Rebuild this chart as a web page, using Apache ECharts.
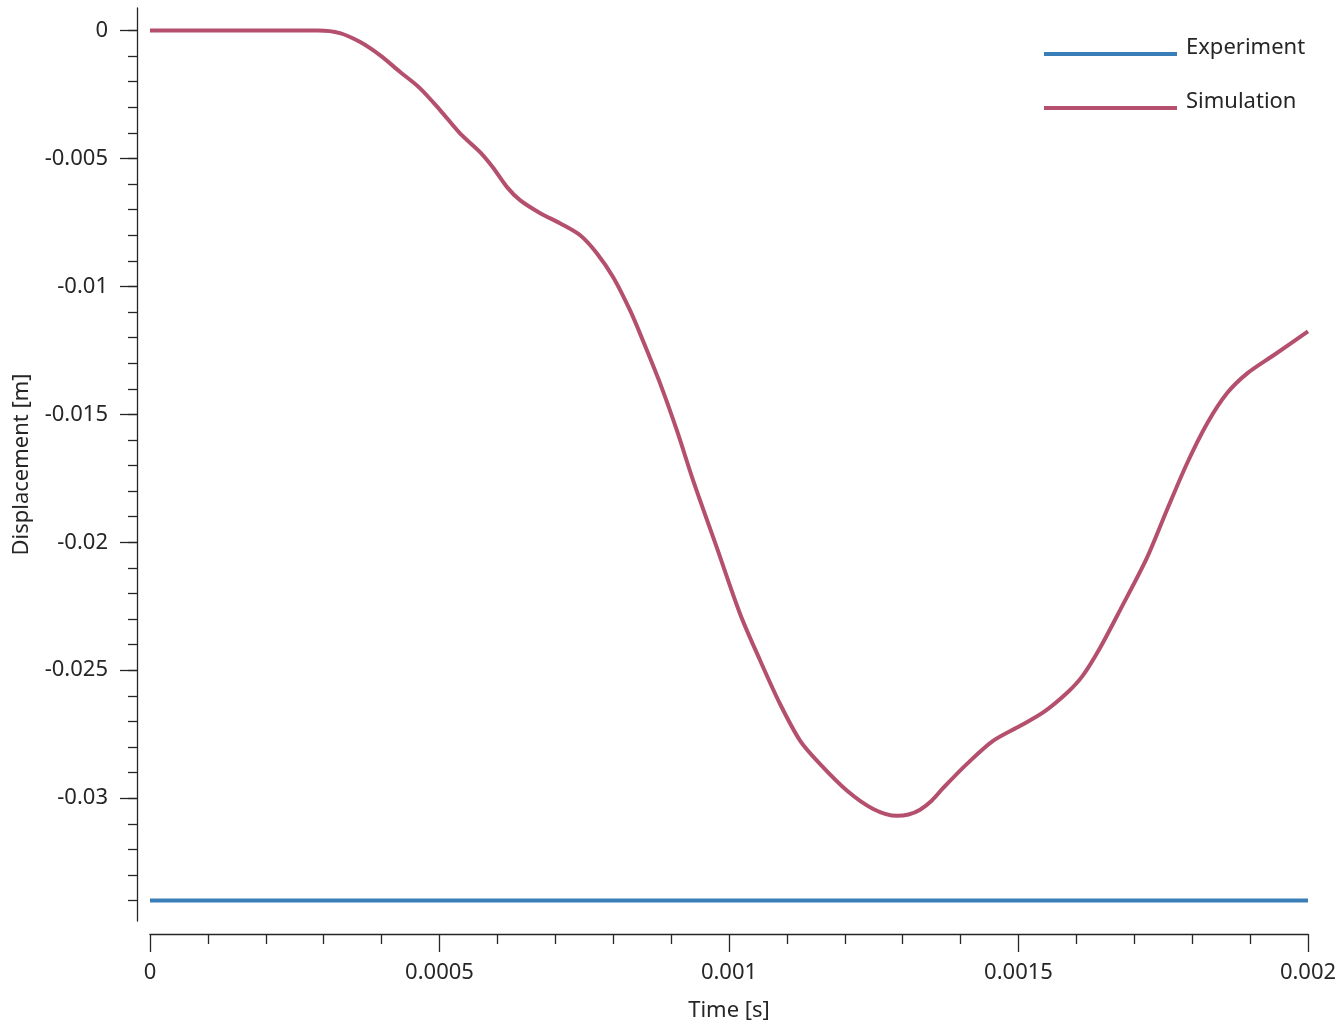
<!DOCTYPE html>
<html>
<head>
<meta charset="utf-8">
<script src="https://cdn.jsdelivr.net/npm/echarts@6/dist/echarts.min.js"></script>
<style>html,body{margin:0;padding:0;background:#fff}#c{width:1339px;height:1024px}</style>
</head>
<body>
<div id="c"></div>
<script>
// Data
const simTime = [0,0.00015,0.00029,0.000328,0.000363,0.000397,0.000432,0.000466,0.000501,0.000535,0.00057,0.000592,0.000617,0.000639,0.000674,0.000708,0.000743,0.000772,0.0008,0.000829,0.000851,0.000881,0.00091,0.000938,0.000979,0.001019,0.001054,0.001088,0.001123,0.001157,0.001204,0.001249,0.00129,0.00131,0.00133,0.00135,0.00137,0.001411,0.001456,0.001503,0.001542,0.001584,0.001611,0.001641,0.001675,0.001722,0.001756,0.001791,0.001826,0.00186,0.001895,0.00194,0.002];
const simDisp = [0,0,0,-0.0001,-0.00045,-0.00096,-0.00162,-0.00225,-0.00311,-0.00401,-0.00475,-0.00534,-0.00613,-0.00663,-0.00714,-0.00753,-0.0080,-0.00871,-0.00964,-0.01093,-0.0121,-0.01379,-0.01563,-0.01758,-0.02021,-0.02279,-0.02463,-0.02631,-0.02776,-0.02866,-0.02971,-0.03042,-0.03069,-0.03064,-0.03045,-0.0301,-0.0296,-0.02866,-0.02776,-0.02717,-0.02666,-0.02588,-0.02521,-0.02412,-0.02267,-0.0206,-0.01876,-0.01692,-0.01535,-0.01418,-0.0134,-0.0127,-0.01176];
const expTime = [0,0.002];
const expDisp = [-0.034,-0.034];
const yMajorTicks = [0,-0.005,-0.01,-0.015,-0.02,-0.025,-0.03];
const yMinorTicks = [0,-0.001,-0.002,-0.003,-0.004,-0.005,-0.006,-0.007,-0.008,-0.009,-0.01,-0.011,-0.012,-0.013,-0.014,-0.015,-0.016,-0.017,-0.018,-0.019,-0.02,-0.021,-0.022,-0.023,-0.024,-0.025,-0.026,-0.027,-0.028,-0.029,-0.03,-0.031,-0.032,-0.033,-0.034];

const FONT = '"Noto Sans", "Open Sans", sans-serif';
const TXT = '#262626';
const BLUE = '#3a7eb8', RED = '#b44f6d';
const yMin = -0.0348, yMax = 0.00088;

const legendBase = {
  left: 1039, orient: 'vertical', icon: 'rect',
  itemWidth: 133, itemHeight: 4, itemGap: 0,
  formatter: name => '{t|' + name + '}',
  textStyle: {fontFamily: FONT, fontSize: 22, color: TXT,
    rich: {t: {fontFamily: FONT, fontSize: 22, color: TXT, padding: [0, 0, 12, 4]}}}
};

const chart = echarts.init(document.getElementById('c'), null, {renderer: 'canvas'});
chart.setOption({
  animation: false,
  backgroundColor: '#fff',
  textStyle: {fontFamily: FONT},
  grid: {left: 150, right: 31, top: 8, bottom: 103, containLabel: false, outerBoundsMode: 'none'},
  legend: [
    Object.assign({}, legendBase, {top: 32, data: ['Experiment']}),
    Object.assign({}, legendBase, {top: 86, data: ['Simulation']})
  ],
  xAxis: {
    type: 'value', min: 0, max: 0.002, interval: 0.0005, offset: 13,
    name: 'Time [s]', nameLocation: 'middle', nameGap: 66,
    nameTextStyle: {fontFamily: FONT, fontSize: 22, color: TXT},
    axisLine: {show: true, onZero: false, lineStyle: {color: TXT, width: 1.3}},
    axisTick: {show: true, length: 18, lineStyle: {color: TXT, width: 1.3}},
    minorTick: {show: true, splitNumber: 5, length: 10, lineStyle: {color: TXT, width: 1.3}},
    axisLabel: {fontFamily: FONT, fontSize: 22, color: TXT, margin: 28,
      formatter: v => String(v)},
    splitLine: {show: false}
  },
  yAxis: [{
    type: 'value', min: yMin, max: yMax, offset: 13, position: 'left',
    name: 'Displacement [m]', nameLocation: 'middle', nameGap: 104,
    nameTextStyle: {fontFamily: FONT, fontSize: 22, color: TXT},
    axisLine: {show: true, onZero: false, lineStyle: {color: TXT, width: 1.3}},
    axisTick: {show: true, length: 17, customValues: yMajorTicks, lineStyle: {color: TXT, width: 1.3}},
    axisLabel: {fontFamily: FONT, fontSize: 22, color: TXT, margin: 29, customValues: yMajorTicks,
      formatter: v => String(v)},
    splitLine: {show: false}
  }, {
    type: 'value', min: yMin, max: yMax, offset: 13, position: 'left',
    axisLine: {show: false, onZero: false},
    axisTick: {show: true, length: 9, customValues: yMinorTicks, lineStyle: {color: TXT, width: 1.3}},
    axisLabel: {show: false},
    splitLine: {show: false}
  }],
  series: [{
    name: 'Experiment', type: 'line', yAxisIndex: 0, symbol: 'none',
    lineStyle: {color: BLUE, width: 4}, itemStyle: {color: BLUE},
    data: expTime.map((t, i) => [t, expDisp[i]])
  }, {
    name: 'Simulation', type: 'line', yAxisIndex: 0, symbol: 'none', smooth: 0.3,
    lineStyle: {color: RED, width: 4}, itemStyle: {color: RED},
    data: simTime.map((t, i) => [t, simDisp[i]])
  }]
});
</script>
</body>
</html>
